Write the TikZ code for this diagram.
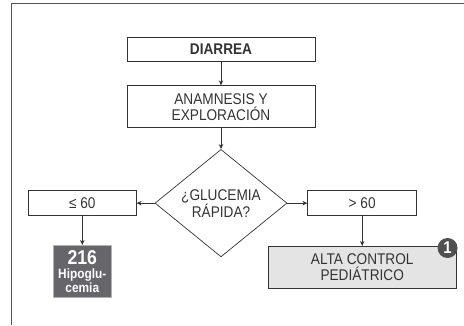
\documentclass[tikz,border=0pt]{standalone}
\usepackage{fontspec}
\setmainfont{Liberation Sans}[FakeStretch=0.88]
\usetikzlibrary{arrows.meta, positioning, shapes.geometric}
\definecolor{linegray}{HTML}{333333}
\definecolor{framegray}{HTML}{555555}
\definecolor{altagray}{HTML}{E4E4E4}
\definecolor{refgray}{HTML}{66666A}
\definecolor{badgegray}{HTML}{505050}
\newcommand{\txtsize}{\fontsize{15.5}{16}\selectfont}

\begin{document}
\begin{tikzpicture}[
    x=1pt, y=1pt,
    >={Stealth[length=5pt, width=4.5pt]},
    block/.style={draw=linegray, line width=0.7pt, minimum width=188pt, minimum height=42pt,
                  inner sep=0pt, align=center, font=\txtsize, text=linegray},
    choice/.style={block, minimum width=108pt, minimum height=25pt},
    decision/.style={diamond, draw=linegray, line width=0.7pt, minimum width=132pt,
                     minimum height=87pt, inner sep=0pt, align=center, font=\txtsize, text=linegray},
    chapter/.style={fill=refgray, draw=gray!60, line width=0.6pt, text=white, minimum width=58pt,
                    minimum height=52pt, inner sep=0pt, align=center,
                    font=\bfseries\fontsize{13.5}{14}\selectfont},
    badge/.style={circle, fill=badgegray, text=white, minimum size=20pt, inner sep=0pt,
                  font=\bfseries\fontsize{17}{17}\selectfont},
    arrow/.style={->, line width=0.7pt, draw=linegray}
]
    \useasboundingbox (0,0) rectangle (464,-325);

    % Frame
    \draw[framegray, line width=1pt] (11,-325) -- (11,-3) -- (464,-3);

    % Start
    \node[block, minimum height=24pt, font=\txtsize\bfseries] (diarrea) at (221,-49) {DIARREA};

    % History
    \node[block, below=24pt of diarrea] (anamnesis) {ANAMNESIS Y\\EXPLORACIÓN};

    % Decision
    \node[decision, below=21pt of anamnesis] (glucemia) {¿GLUCEMIA\\RÁPIDA?};

    % Branches
    \node[choice, left=18pt of glucemia] (low) {≤ 60};
    \node[choice, minimum width=109pt, right=20pt of glucemia] (high) {> 60};

    % Outcomes
    \node[chapter, below=29pt of low] (hypo)
        {{\fontsize{20}{18}\selectfont 216}\\Hipoglu-\\cemia};
    \node[block, fill=altagray, below=30pt of high] (alta) {ALTA CONTROL\\PEDIÁTRICO};
    \node[badge] (note) at ([shift={(-9pt,-2pt)}]alta.north east) {1};

    % Arrows
    \draw[arrow] (diarrea) -- (anamnesis);
    \draw[arrow] (anamnesis) -- (glucemia);
    \draw[arrow] (glucemia.west) -- (low);
    \draw[arrow] (glucemia.east) -- (high);
    \draw[arrow] (low) -- (hypo);
    \draw[arrow] (high) -- (alta);
\end{tikzpicture}
\end{document}
